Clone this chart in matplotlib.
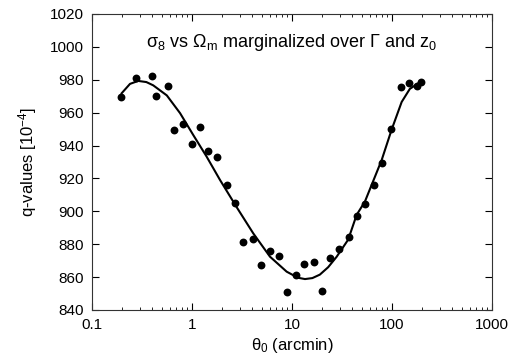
import matplotlib
matplotlib.use("Agg")
import matplotlib.pyplot as plt
from matplotlib.ticker import LogLocator, NullFormatter

plt.rcParams['font.family'] = ['Liberation Sans', 'DejaVu Sans']
plt.rcParams['mathtext.fontset'] = 'custom'
plt.rcParams['mathtext.rm'] = 'Liberation Sans'
plt.rcParams['mathtext.it'] = 'Liberation Sans'

# data points (theta0 in arcmin, q-values in 1e-4)
theta_pts = [0.195, 0.277, 0.395, 0.44, 0.575, 0.656, 0.813, 0.993, 1.21, 1.445,
             1.79, 2.22, 2.69, 3.21, 4.04, 4.9, 6.03, 7.41, 8.91, 10.9,
             13.3, 16.5, 20.1, 24.2, 29.7, 36.9, 44.3, 54.1, 65.6, 80.0,
             97.7, 122, 149, 176.5, 196]
q_pts = [969.7, 980.8, 982.0, 970.0, 976.5, 949.5, 953.0, 940.8, 951.0, 936.5,
         933.3, 915.9, 905.3, 881.2, 883.3, 867.6, 876.1, 872.8, 850.8, 861.1,
         867.8, 869.0, 851.6, 871.6, 877.1, 884.2, 897.2, 904.5, 915.9, 929.2,
         950.3, 975.3, 977.9, 976.3, 978.8]

# fitted curve
theta_fit = [0.198, 0.24, 0.29, 0.35, 0.41, 0.56, 0.76, 1.03, 1.40, 1.91,
             2.80, 4.1, 6.03, 8.85, 11.5, 13.5, 16.0, 19.0, 23.0, 28.0,
             36.5, 44.3, 53.7, 65.0, 78.9, 99.0, 125, 151, 183, 196]
q_fit = [971.8, 977.5, 979.3, 978.6, 976.6, 970.5, 959.7, 946.4, 933.3, 919.0,
         902.5, 886.6, 872.4, 863.3, 859.6, 858.8, 859.4, 861.5, 866.0, 872.4,
         882.8, 897.8, 906.0, 918.5, 931.2, 949.5, 966.5, 974.5, 977.8, 978.6]

x_ticks = [0.1, 1, 10, 100, 1000]
x_ticklabels = ['0.1', '1', '10', '100', '1000']
y_ticks = [840, 860, 880, 900, 920, 940, 960, 980, 1000, 1020]

fig = plt.figure(figsize=(5.13, 3.57), dpi=100)
ax = fig.add_axes([0.1793, 0.1317, 0.7797, 0.8291])

ax.plot(theta_fit, q_fit, color='black', lw=1.5, zorder=2)
ax.scatter(theta_pts, q_pts, s=32, color='black', zorder=3, linewidths=0)

ax.set_xscale('log')
ax.set_xlim(0.1, 1000)
ax.set_ylim(840, 1020)
ax.set_xticks(x_ticks)
ax.set_xticklabels(x_ticklabels)
ax.xaxis.set_minor_locator(LogLocator(base=10, subs=range(2, 10), numticks=20))
ax.xaxis.set_minor_formatter(NullFormatter())
ax.set_yticks(y_ticks)

ax.tick_params(axis='both', which='major', direction='in', length=5, width=0.8,
               top=True, right=True, labelsize=11, pad=6)
ax.tick_params(axis='x', which='minor', direction='in', length=2.5, width=0.6,
               top=True, bottom=True)
for s in ax.spines.values():
    s.set_linewidth(0.8)
    s.set_color('#333333')

ax.set_xlabel(r'$\theta_0$ (arcmin)', fontsize=12, labelpad=3)
ax.set_ylabel(r'q-values [10$^{-4}$]', fontsize=12, labelpad=8)

ax.text(0.5, 0.905, r'$\sigma_8$ vs $\Omega_{\rm m}$ marginalized over $\Gamma$ and z$_0$',
        transform=ax.transAxes, ha='center', va='center', fontsize=13)

fig.savefig('out.png', dpi=100)
